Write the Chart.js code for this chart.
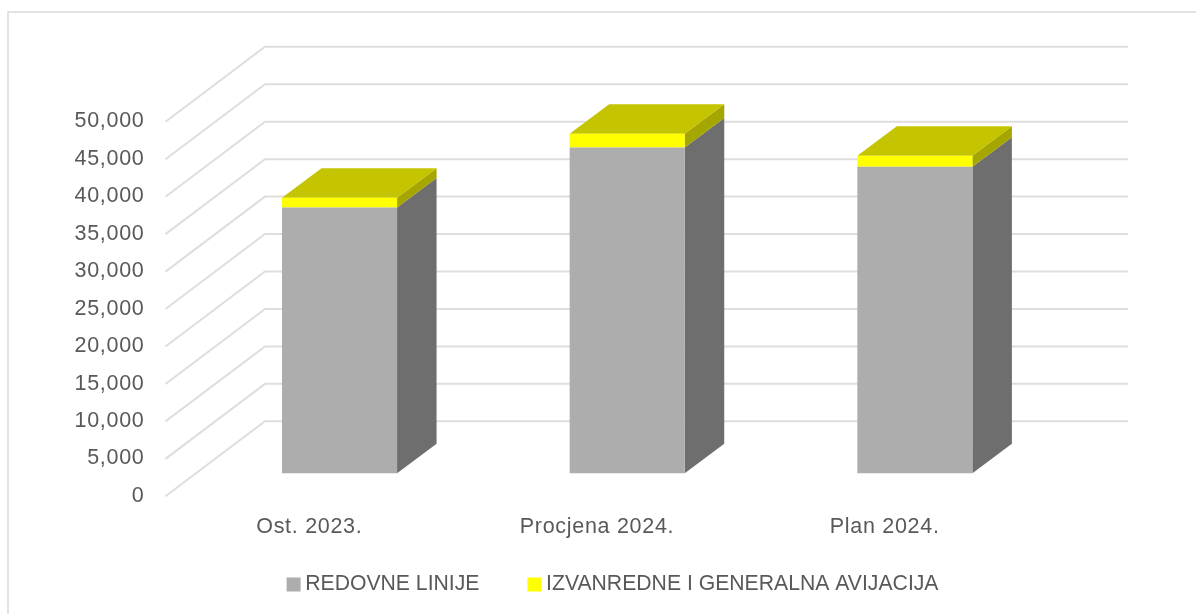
<!DOCTYPE html>
<html>
<head>
<meta charset="utf-8">
<style>html,body{margin:0;padding:0;background:#fff;overflow:hidden}canvas{display:block}</style>
<script src="https://cdn.jsdelivr.net/npm/chart.js@4"></script>
</head>
<body>
<canvas id="c" width="1196" height="614"></canvas>
<script>
const categories = ["Ost. 2023.", "Procjena 2024.", "Plan 2024."];
const redovneLinije = [35480, 43500, 40910];
const izvanredne = [1285, 1820, 1470];
const seriesNames = ["REDOVNE LINIJE", "IZVANREDNE I GENERALNA AVIJACIJA"];

const GRID = "#dedede", TEXT = "#595959";
const wallDx = 99.5, wallDy = 75;      // depth of the floor
const barShiftX = 30.2, barShiftY = -22.8; // bars stand part-way into the floor
const barDx = 39.5, barDy = 29.5;      // depth of each bar
const gridShiftY = 0.3;
const legendShiftX = 101.3, legendShiftY = -29;

const poly = (ctx, pts, fill) => {
  ctx.fillStyle = fill; ctx.beginPath();
  pts.forEach((p, i) => i ? ctx.lineTo(p[0], p[1]) : ctx.moveTo(p[0], p[1]));
  ctx.closePath(); ctx.fill();
};

const scene3d = {
  id: "scene3d",
  beforeDraw(chart) {
    const ctx = chart.ctx;
    ctx.letterSpacing = "0.7px";
    if (!chart.legend._wrapped) {
      const d = chart.legend.draw.bind(chart.legend);
      chart.legend.draw = a => {
        ctx.save(); ctx.letterSpacing = "0px";
        ctx.translate(legendShiftX, legendShiftY);
        d(a); ctx.restore();
      };
      chart.legend._wrapped = true;
    }
    ctx.save();
    ctx.fillStyle = "#fff"; ctx.fillRect(0, 0, 1196, 614);
    ctx.strokeStyle = "#d9d9d9"; ctx.lineWidth = 1.5;
    ctx.strokeRect(8, 12, 1300, 800);
    ctx.restore();
  },
  beforeDatasetsDraw(chart) {
    const ctx = chart.ctx, y = chart.scales.y, a = chart.chartArea;
    ctx.save();
    ctx.strokeStyle = GRID; ctx.lineWidth = 2;
    y.ticks.forEach(t => {
      const py = y.getPixelForValue(t.value) + gridShiftY;
      ctx.beginPath();
      ctx.moveTo(a.left, py);
      ctx.lineTo(a.left + wallDx, py - wallDy);
      ctx.lineTo(a.right + wallDx, py - wallDy);
      ctx.stroke();
    });
    // side and top faces
    const m0 = chart.getDatasetMeta(0).data, m1 = chart.getDatasetMeta(1).data;
    ctx.translate(barShiftX, barShiftY);
    m0.forEach((g, i) => {
      const k = m1[i], r = g.x + g.width / 2, l = g.x - g.width / 2;
      poly(ctx, [[r, g.base], [r + barDx, g.base - barDy], [r + barDx, g.y - barDy], [r, g.y]], "#6e6e6e");
      poly(ctx, [[r, g.y], [r + barDx, g.y - barDy], [r + barDx, k.y - barDy], [r, k.y]], "#a6a600");
      poly(ctx, [[l, k.y], [r, k.y], [r + barDx, k.y - barDy], [l + barDx, k.y - barDy]], "#c4c400");
    });
    ctx.restore();
  },
  beforeDatasetDraw(chart) {
    chart.ctx.save();
    chart.ctx.translate(barShiftX, barShiftY);
  },
  afterDatasetDraw(chart) {
    chart.ctx.restore();
  }
};

new Chart(document.getElementById("c"), {
  type: "bar",
  data: {
    labels: categories,
    datasets: [
      { label: seriesNames[0], data: redovneLinije, backgroundColor: "#adadad", clip: false, pointStyle: "rect" },
      { label: seriesNames[1], data: izvanredne, backgroundColor: "#ffff00", clip: false, pointStyle: "rect" }
    ]
  },
  options: {
    responsive: false,
    animation: false,
    devicePixelRatio: 1,
    layout: { padding: { left: 0, right: 167.5, top: 121.5, bottom: -20.2 } },
    datasets: { bar: { barPercentage: 1, categoryPercentage: 0.4 } },
    plugins: {
      tooltip: { enabled: false },
      title: { display: false },
      legend: {
        position: "bottom",
        labels: {
          usePointStyle: true,
          boxWidth: 2, boxHeight: 14, padding: 54,
          color: TEXT,
          font: { family: "'Liberation Sans'", size: 21.2 }
        }
      }
    },
    scales: {
      x: {
        stacked: true,
        grid: { display: false },
        border: { display: false },
        ticks: { color: TEXT, padding: 10.5, font: { family: "'Liberation Sans'", size: 21.5 }, maxRotation: 0 },
        afterFit: s => { s.height = 53; }
      },
      y: {
        stacked: true,
        min: 0, max: 50000,
        grid: { display: false, drawTicks: false },
        border: { display: false },
        ticks: {
          stepSize: 5000, color: TEXT, padding: 21,
          font: { family: "'Liberation Sans'", size: 21.5 },
          callback: v => v.toLocaleString("en-US")
        },
        afterFit: s => { s.width = 165.5; }
      }
    }
  },
  plugins: [scene3d]
});
</script>
</body>
</html>
